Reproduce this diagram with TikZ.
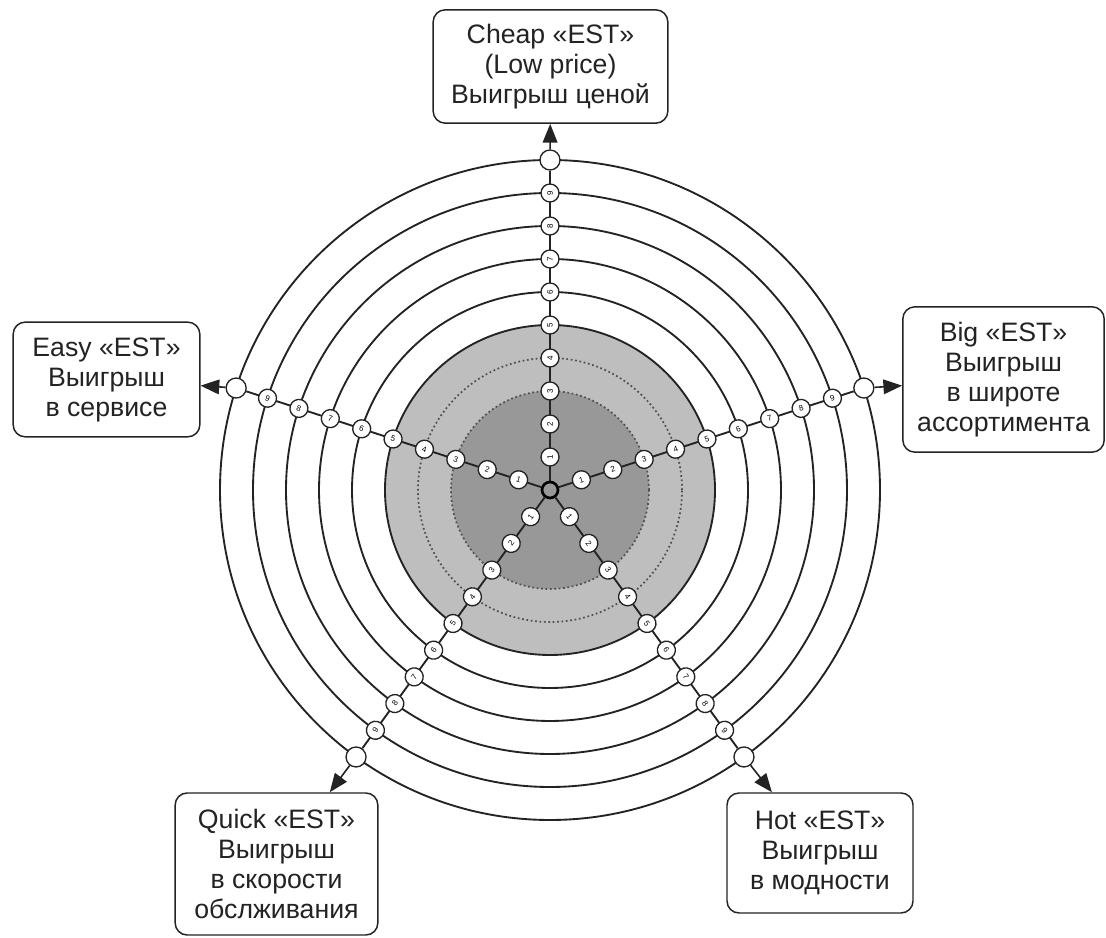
\documentclass[tikz,border=0pt]{standalone}
\usepackage{fontspec}
\setmainfont{Liberation Sans}
\usetikzlibrary{arrows.meta,backgrounds}
\definecolor{lgray}{RGB}{190,190,190}
\definecolor{dgray}{RGB}{152,152,152}
\definecolor{ink}{RGB}{35,35,35}
\begin{document}
\begin{tikzpicture}[x=0.75pt,y=0.75pt,
  ring/.style={draw=ink,line width=1.4pt},
  dotring/.style={draw=ink!80,line width=1.3pt,dotted},
  spoke/.style={draw=ink,line width=1.4pt},
  numdot/.style={circle,draw=ink,fill=white,line width=1pt,minimum size=13.5pt,inner sep=0pt,font=\fontsize{6}{6}\selectfont},
  endcirc/.style={circle,draw=ink,fill=white,line width=1pt,minimum size=15pt,inner sep=0pt},
  centdot/.style={circle,draw=black,fill=dgray,line width=2pt,minimum size=12pt,inner sep=0pt},
  labelbox/.style={draw=ink,line width=1.1pt,rounded corners=9pt,fill=white,align=center,inner sep=0pt,text=ink,font=\fontsize{20}{22.5}\selectfont},
  pointer/.style={draw=ink,line width=1.2pt,-{Triangle[length=14pt,width=11pt]}}]
\useasboundingbox (0,0) rectangle (1106,938);
\coordinate (O) at (550,448);
\node[centdot] (c) at (O) {};
\foreach \a/\i/\rot in {90/1/90,18/2/18,-54/3/-54,-126/4/54,162/5/-18}{
  \node[endcirc] (w\i) at ([shift={(\a:330)}]O) {};
  \foreach \k in {1,...,9}{
    \node[numdot,rotate=\rot] (m\i-\k) at ([shift={(\a:{\k*33})}]O) {\k};
  }
}
\begin{pgfonlayer}{background}
  \fill[lgray] (O) circle[radius=165];
  \fill[dgray] (O) circle[radius=99];
  \draw[dotring] (O) circle[radius=99];
  \draw[dotring] (O) circle[radius=132];
  \foreach \r in {165,198,...,330} \draw[ring] (O) circle[radius=\r];
  \foreach \i in {1,...,5} \draw[spoke] (c) -- (w\i);
\end{pgfonlayer}
\node[labelbox,minimum width=176pt,minimum height=85pt] (b1) at (550.5,871.5) {Cheap «EST»\\(Low price)\\Выигрыш ценой};
\node[labelbox,minimum width=151pt,minimum height=109pt] (b2) at (1003.5,558.5) {Big «EST»\\Выигрыш\\в широте\\ассортимента};
\node[labelbox,minimum width=139.5pt,minimum height=90pt] (b3) at (820,85) {Hot «EST»\\Выигрыш\\в модности};
\node[labelbox,minimum width=152pt,minimum height=106.5pt] (b4) at (276.5,74) {Quick «EST»\\Выигрыш\\в скорости\\обслживания};
\node[labelbox,minimum width=140pt,minimum height=86pt] (b5) at (106.5,558.5) {Easy «EST»\\Выигрыш\\в сервисе};
\foreach \i in {1,...,5} \draw[pointer] (w\i) -- (b\i);
\end{tikzpicture}
\end{document}
